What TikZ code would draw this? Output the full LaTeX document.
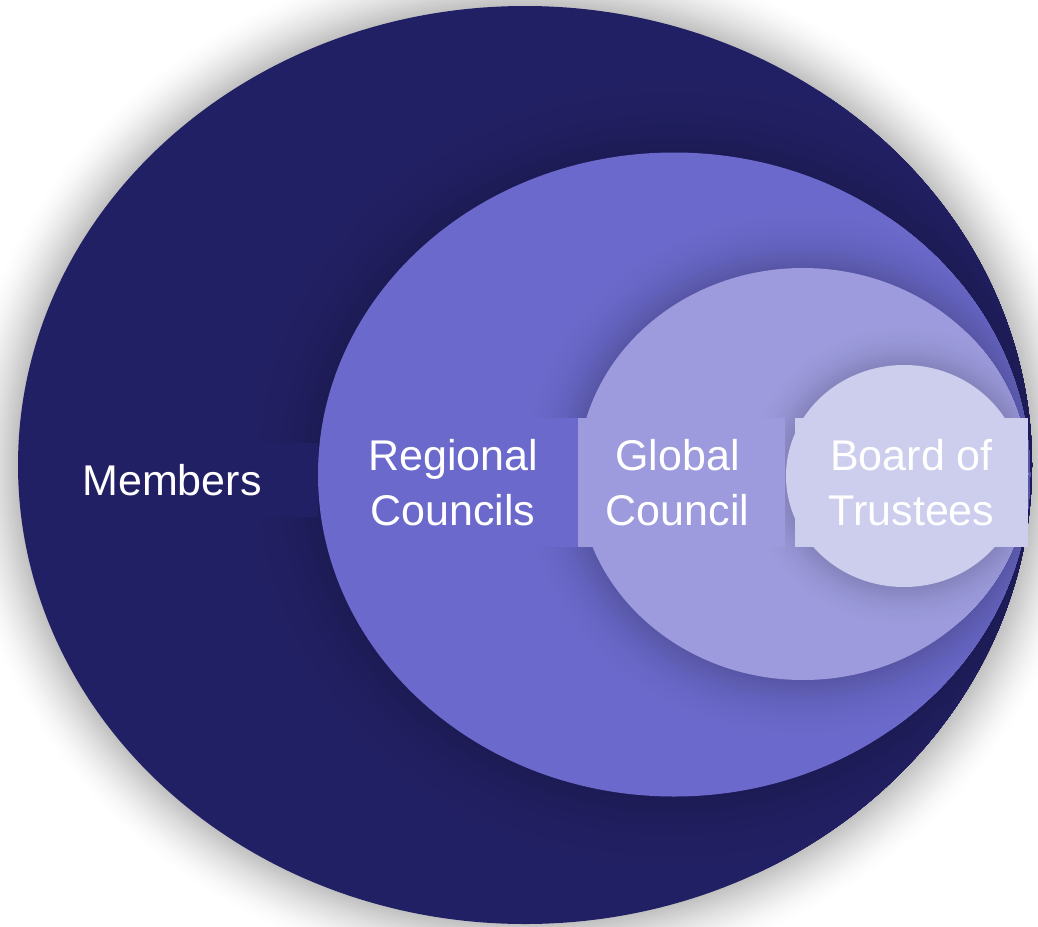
\documentclass[tikz,border=0pt]{standalone}
\usepackage{fontspec}
\setmainfont{Liberation Sans}
\usetikzlibrary{shapes.geometric}
\definecolor{cOuter}{RGB}{34,32,100}
\definecolor{cSecond}{RGB}{107,106,204}
\definecolor{cThird}{RGB}{157,155,221}
\definecolor{cFourth}{RGB}{205,205,238}
\begin{document}
\begin{tikzpicture}[x=1pt,y=-1pt,
  ring/.style={ellipse, inner sep=0pt, outer sep=0pt, draw=none},
  lbl/.style={rectangle, inner sep=0pt, outer sep=0pt, text=white, align=center,
    font=\fontsize{43}{55}\selectfont}]
\useasboundingbox (0,0) rectangle (1038,926);
\fill[white] (0,0) rectangle (1038,926);
% soft grey shadow around the outer ellipse (opaque rings, light to dark)
\foreach \i in {26,...,1} {
  \pgfmathsetmacro\p{100-24*((27-\i)/26)^1.6}
  \fill[white!\p!black] (525,465) ellipse [x radius={(507+2.2*\i)*1pt}, y radius={(459+2.2*\i)*1pt}];
}
\node[ring, fill=cOuter, minimum width=1014pt, minimum height=918pt] (outer) at (525,465) {};
% shadow of the second ellipse
\begin{scope}
  \clip (525,465) ellipse [x radius=507pt, y radius=459pt];
  \foreach \i in {24,...,1} {
    \pgfmathsetmacro\p{100-15*((25-\i)/24)^2}
    \fill[cOuter!\p!black] (674,474.5) ellipse [x radius={(356+3.5*\i)*1pt}, y radius={(322+3.5*\i)*1pt}];
  }
\end{scope}
\node[lbl, fill=cOuter, minimum width=292pt, minimum height=74pt] (members) at (172,480) {Members};
\node[ring, fill=cSecond, minimum width=712pt, minimum height=644pt] (second) at (674,474.5) {};
% shadow of the third ellipse
\begin{scope}
  \clip (674,474.5) ellipse [x radius=356pt, y radius=322pt];
  \foreach \i in {24,...,1} {
    \pgfmathsetmacro\p{100-18*((25-\i)/24)^2}
    \fill[cSecond!\p!black] (803,474) ellipse [x radius={(225+2.6*\i)*1pt}, y radius={(206+2.6*\i)*1pt}];
  }
\end{scope}
\node[lbl, fill=cSecond, minimum width=250pt, minimum height=129pt] (regional) at (453,482.5) {Regional\\Councils};
\node[ring, fill=cThird, minimum width=450pt, minimum height=412pt] (third) at (803,474) {};
% shadow of the fourth ellipse
\begin{scope}
  \clip (803,474) ellipse [x radius=225pt, y radius=206pt];
  \foreach \i in {20,...,1} {
    \pgfmathsetmacro\p{100-14*((21-\i)/20)^2}
    \fill[cThird!\p!black] (904,476) ellipse [x radius={(118+2.2*\i)*1pt}, y radius={(111+2.2*\i)*1pt}];
  }
\end{scope}
\node[lbl, fill=cThird, minimum width=207pt, minimum height=129pt] (global) at (681.5,482.5) {\hspace*{-8pt}Global\\\hspace*{-8pt}Council};
\node[ring, fill=cFourth, minimum width=236pt, minimum height=222pt] (fourth) at (904,476) {};
\node[lbl, fill=cFourth, minimum width=233pt, minimum height=129pt] (board) at (911.5,482.5) {Board of\\Trustees};
\end{tikzpicture}
\end{document}
